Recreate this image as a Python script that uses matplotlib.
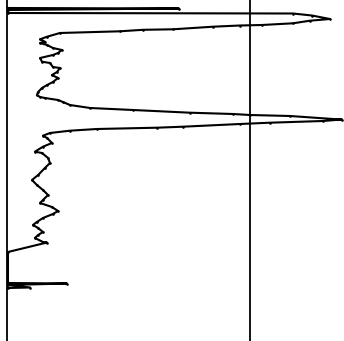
import matplotlib
matplotlib.use('Agg')
import matplotlib.pyplot as plt

# log curve: value (API-like units) vs depth (m)
gr = [0.4, 70.8, 0.4, 0.4, 117.7, 125.5, 132.9, 124.7, 117.7, 104.9,
      95.9, 84.8, 68.3, 56.0, 46.5, 21.8, 16.5, 13.6, 15.6, 13.6,
      16.5, 18.9, 22.6, 21.0, 18.9, 13.6, 14.4, 17.7, 18.9, 21.8,
      20.6, 18.5, 21.0, 18.9, 16.5, 14.4, 12.8, 12.3, 13.6, 15.6,
      21.0, 23.0, 25.9, 34.2, 51.9, 75.3, 93.0, 100.0, 116.5, 134.2,
      137.9, 130.0, 108.2, 95.9, 72.4, 61.7, 37.0, 25.9, 17.7, 14.8,
      16.5, 18.5, 14.8, 11.5, 14.4, 16.9, 17.7, 15.6, 12.8, 10.3,
      12.3, 14.8, 16.9, 14.8, 13.6, 18.5, 21.0, 18.9, 14.8, 12.3,
      10.7, 12.8, 14.8, 12.8, 11.5, 14.8, 16.5, 0.4, 0.4, 24.7,
      0.4, 9.5, 0.4]
depth = [1504.0, 1504.25, 1505.0, 1506.5, 1506.75, 1507.75, 1509.5, 1510.35, 1511.65, 1512.5,
         1512.75, 1513.35, 1514.65, 1514.9, 1515.65, 1516.5, 1518.35, 1519.65, 1520.85, 1521.5,
         1522.5, 1524.0, 1525.0, 1526.5, 1527.5, 1529.0, 1530.85, 1531.5, 1533.5, 1534.0,
         1536.0, 1537.5, 1539.0, 1541.0, 1542.5, 1544.0, 1546.0, 1547.5, 1548.5, 1549.0,
         1550.0, 1551.0, 1552.5, 1554.0, 1555.0, 1556.35, 1557.0, 1557.5, 1558.0, 1559.5,
         1559.75, 1560.5, 1561.35, 1562.0, 1563.35, 1563.85, 1564.5, 1565.35, 1566.5, 1567.85,
         1569.0, 1571.5, 1573.35, 1575.85, 1576.5, 1579.0, 1581.5, 1584.0, 1587.5, 1590.0,
         1592.5, 1595.0, 1597.5, 1600.0, 1601.5, 1603.5, 1605.5, 1607.0, 1609.0, 1611.0,
         1612.5, 1614.0, 1616.0, 1617.5, 1619.0, 1621.0, 1621.25, 1626.0, 1641.5, 1641.75,
         1642.5, 1643.75, 1644.0]
ref_lines = [0, 100]

fig = plt.figure(figsize=(3.44, 3.41), dpi=100)
ax = fig.add_axes([0, 0, 1, 1])

for v in ref_lines:
    ax.axvline(v, color='black', lw=1.3)

ax.plot(gr, depth, color='black', lw=1.5, marker='.', markersize=1.8)

ax.set_xlim(-2.88, 138.7)
ax.set_ylim(1670.5, 1500)
ax.axis('off')

fig.savefig('out.png', dpi=100)
